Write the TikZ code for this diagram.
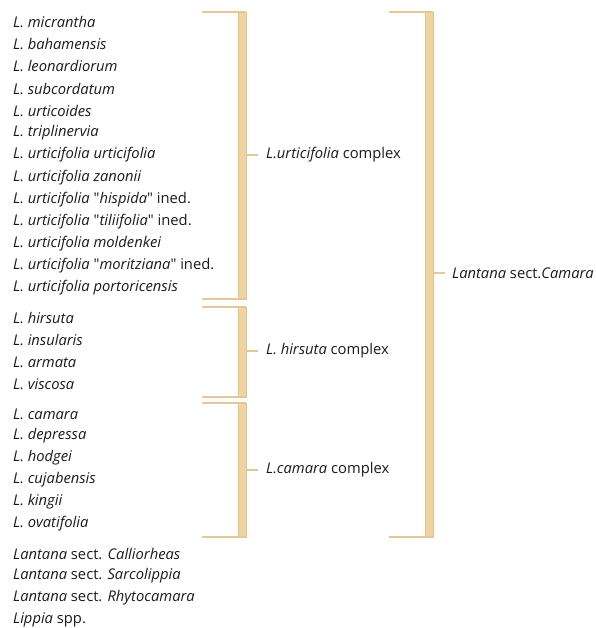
\documentclass[tikz,border=0pt]{standalone}
\usepackage{fontspec}
\setmainfont{Open Sans}[Ligatures=TeXOff]
\definecolor{bar}{HTML}{EED3A4}
\definecolor{baredge}{HTML}{E2C48F}
\definecolor{tline}{HTML}{E3C796}
\definecolor{txt}{HTML}{1A1A1A}
\newcommand{\sq}{\symbol{34}}
\begin{document}
\begin{tikzpicture}[x=1bp,y=-1bp,
  lbl/.style={anchor=west,inner sep=0pt,text=txt,font=\fontsize{14.8}{16}\selectfont},
  barbox/.style={fill=bar,draw=baredge,line width=0.6bp},
  hline/.style={draw=tline,line width=1.6bp},
  tick/.style={draw=tline,line width=1.6bp}]
\useasboundingbox (0,0) rectangle (596,628);
% species list
\foreach \t [count=\i] in {%
 {\textit{L. micrantha}},
 {\textit{L. bahamensis}},
 {\textit{L. leonardiorum}},
 {\textit{L. subcordatum}},
 {\textit{L. urticoides}},
 {\textit{L. triplinervia}},
 {\textit{L. urticifolia urticifolia}},
 {\textit{L. urticifolia zanonii}},
 {\textit{L. urticifolia} \sq\textit{hispida}\sq{} ined.},
 {\textit{L. urticifolia} \sq\textit{tiliifolia}\sq{} ined.},
 {\textit{L. urticifolia moldenkei}},
 {\textit{L. urticifolia} \sq\textit{moritziana}\sq{} ined.},
 {\textit{L. urticifolia portoricensis}}}
 {\node[lbl] (a\i) at (13,{22+(\i-1)*22.17}) {\t};}
\foreach \t [count=\i] in {%
 {\textit{L. hirsuta}},{\textit{L. insularis}},{\textit{L. armata}},{\textit{L. viscosa}}}
 {\node[lbl] (b\i) at (13,{318+(\i-1)*22}) {\t};}
\foreach \t [count=\i] in {%
 {\textit{L. camara}},{\textit{L. depressa}},{\textit{L. hodgei}},{\textit{L. cujabensis}},{\textit{L. kingii}},{\textit{L. ovatifolia}}}
 {\node[lbl] (c\i) at (13,{414+(\i-1)*22}) {\t};}
\foreach \t [count=\i] in {%
 {\textit{Lantana} sect. \textit{Calliorheas}},
 {\textit{Lantana} sect. \textit{Sarcolippia}},
 {\textit{Lantana} sect. \textit{Rhytocamara}},
 {\textit{Lippia} spp.}}
 {\node[lbl] (d\i) at (13,{554+(\i-1)*22}) {\t};}
% bracket 1
\draw[barbox] (238,12) rectangle (246,299);
\draw[hline] (202,12) -- (246,12);
\draw[hline] (202,299) -- (246,299);
\coordinate (t1) at (246,155);
\coordinate (e1) at (258,155);
\node[lbl] (k1) at (266,155) {\textit{L.urticifolia} complex};
\draw[tick] (t1) -- (e1);
% bracket 2
\draw[barbox] (238,307) rectangle (246,397);
\draw[hline] (202,307) -- (246,307);
\draw[hline] (202,397) -- (246,397);
\coordinate (t2) at (246,351);
\coordinate (e2) at (258,351);
\node[lbl] (k2) at (266,351) {\textit{L. hirsuta} complex};
\draw[tick] (t2) -- (e2);
% bracket 3
\draw[barbox] (238,403) rectangle (246,537);
\draw[hline] (202,403) -- (246,403);
\draw[hline] (202,537) -- (246,537);
\coordinate (t3) at (246,470);
\coordinate (e3) at (258,470);
\node[lbl] (k3) at (266,470) {\textit{L.camara} complex};
\draw[tick] (t3) -- (e3);
% big bracket
\draw[barbox] (425,12) rectangle (433,537);
\draw[hline] (389,12) -- (433,12);
\draw[hline] (389,537) -- (433,537);
\coordinate (t4) at (433,273);
\coordinate (e4) at (445,273);
\node[lbl] (k4) at (452,273) {\textit{Lantana} sect.\textit{Camara}};
\draw[tick] (t4) -- (e4);
\end{tikzpicture}
\end{document}
